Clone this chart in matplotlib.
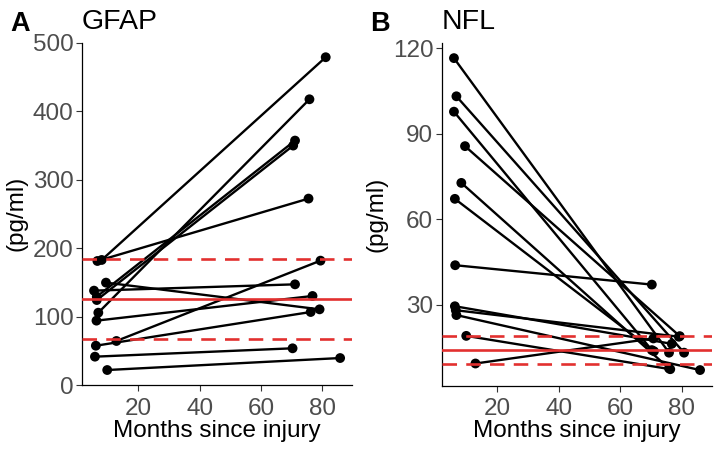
#!/usr/bin/env python3
# -*- coding: utf-8 -*-
"""
Paired GFAP / NFL measurements, early vs late after injury.

Two panels, each line joins the two samples of one patient.
Red lines: reference mean (solid) and +/- limits (dashed).
"""

import matplotlib
matplotlib.use("Agg")
import matplotlib.pyplot as plt


# ============================================================
# 1. Data
# ============================================================

# GFAP: first and second visit, months since injury / pg/ml
gfap_month_1 = [8.1, 6.7, 9.5, 5.6, 6.5, 6.5, 7.0, 6.4, 6.2, 12.9, 5.9, 9.9]
gfap_value_1 = [182.6, 181.1, 149.5, 137.8, 129.0, 124.1, 105.6, 94.0, 57.4, 64.3, 41.4, 21.9]
gfap_month_2 = [81.1, 75.5, 79.1, 71.1, 71.1, 70.5, 75.8, 76.8, 76.2, 79.4, 70.3, 85.8]
gfap_value_2 = [478.6, 272.2, 110.5, 147.0, 356.9, 349.6, 417.2, 130.0, 106.6, 181.6, 53.6, 39.4]
gfap_ref = 125.6
gfap_ref_band = [67.2, 184.5]

# NFL
nfl_month_1 = [5.9, 6.7, 5.9, 9.5, 8.3, 6.2, 6.3, 6.2, 6.5, 6.7, 9.9, 12.9]
nfl_value_1 = [116.5, 103.1, 97.7, 85.6, 72.7, 67.1, 43.8, 29.4, 28.0, 26.3, 19.0, 9.3]
nfl_month_2 = [75.9, 80.8, 70.3, 79.4, 75.9, 71.0, 70.3, 76.8, 79.1, 86.0, 76.3, 70.8]
nfl_value_2 = [13.1, 13.1, 14.0, 18.9, 7.6, 13.6, 37.0, 16.2, 18.7, 7.0, 7.3, 18.1]
nfl_ref = 14.0
nfl_ref_band = [9.1, 19.0]

x_ticks = [20, 40, 60, 80]
gfap_y_ticks = [0, 100, 200, 300, 400, 500]
nfl_y_ticks = [30, 60, 90, 120]


# ============================================================
# 2. Style
# ============================================================

plt.rcParams["font.family"] = ["Liberation Sans", "DejaVu Sans"]

RED = "#E2302F"
TICK_GREY = "#4D4D4D"


def expand(lo, hi, frac=0.05):
    """ggplot-like 5% padding of a data range."""
    pad = (hi - lo) * frac
    return lo - pad, hi + pad


def draw_panel(ax, m1, v1, m2, v2, ref, band, yticks, title, letter, ylim=None):
    """Paired-sample panel with reference lines."""
    for a, b, c, d in zip(m1, v1, m2, v2):
        ax.plot([a, c], [b, d], color="black", lw=1.7, zorder=2,
                solid_capstyle="butt")
    ax.scatter(m1 + m2, v1 + v2, s=50, color="black", zorder=3,
               edgecolors="none")

    ax.axhline(ref, color=RED, lw=1.9, zorder=4)
    for yb in band:
        ax.axhline(yb, color=RED, lw=1.9, ls=(0, (5.5, 3.5)), zorder=4)

    ax.set_xlim(*expand(min(m1 + m2), max(m1 + m2)))
    if ylim is None:
        ylim = expand(min(v1 + v2), max(v1 + v2))
    ax.set_ylim(*ylim)

    ax.set_xticks(x_ticks)
    ax.set_yticks(yticks)
    ax.tick_params(labelsize=17.5, labelcolor=TICK_GREY, length=4, width=0.8,
                   color="#333333")
    ax.tick_params(axis="x", pad=5)
    ax.tick_params(axis="y", pad=2)

    for side in ("top", "right"):
        ax.spines[side].set_visible(False)
    for side in ("left", "bottom"):
        ax.spines[side].set_linewidth(0.9)

    ax.set_xlabel("Months since injury", fontsize=17.5, labelpad=0)
    ax.set_ylabel("(pg/ml)", fontsize=17.5, labelpad=4)
    ax.set_title(title, fontsize=20.5, loc="left", pad=10)
    ax.text(-0.265, 1.034, letter, transform=ax.transAxes, fontsize=19.5,
            fontweight="bold", ha="left", va="baseline")


# ============================================================
# 3. Figure
# ============================================================

def main():
    fig = plt.figure(figsize=(7.2, 4.5), dpi=100)
    ax_a = fig.add_axes([0.1135, 0.1444, 0.376, 0.761])
    ax_b = fig.add_axes([0.6134, 0.1430, 0.376, 0.7625])

    draw_panel(ax_a, gfap_month_1, gfap_value_1, gfap_month_2, gfap_value_2,
               gfap_ref, gfap_ref_band, gfap_y_ticks, "GFAP", "A",
               ylim=(0, 500))
    draw_panel(ax_b, nfl_month_1, nfl_value_1, nfl_month_2, nfl_value_2,
               nfl_ref, nfl_ref_band, nfl_y_ticks, "NFL", "B")

    fig.savefig("out.png", dpi=100)


if __name__ == "__main__":
    main()
